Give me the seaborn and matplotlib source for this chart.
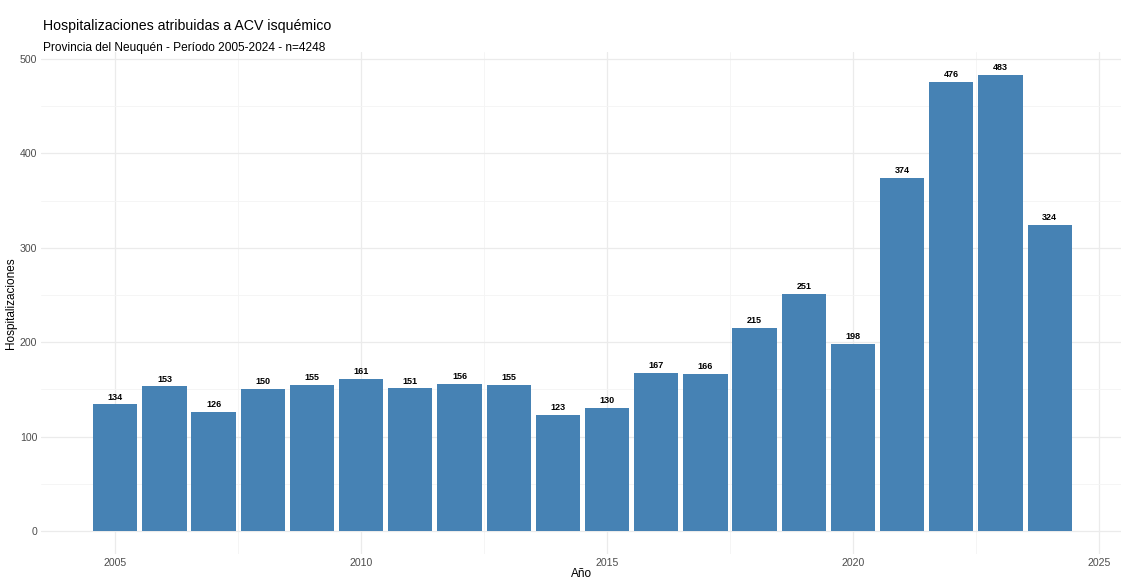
import matplotlib
matplotlib.use("Agg")
import matplotlib.pyplot as plt
from matplotlib.ticker import MultipleLocator
import seaborn as sns
import pandas as pd

years = list(range(2005, 2025))
hospitalizaciones = [134, 153, 126, 150, 155, 161, 151, 156, 155, 123,
                     130, 167, 166, 215, 251, 198, 374, 476, 483, 324]

title = "Hospitalizaciones atribuidas a ACV isquémico"
subtitle = "Provincia del Neuquén - Período 2005-2024 - n=4248"
x_label = "Año"
y_label = "Hospitalizaciones"

df = pd.DataFrame({"anio": years, "hosp": hospitalizaciones})

sns.set_theme(style="white")
plt.rcParams["font.family"] = ["Liberation Sans", "DejaVu Sans"]

fig = plt.figure(figsize=(11.21, 5.81), dpi=100)
ax = fig.add_axes([0.037, 0.047, 0.963, 0.863])

sns.barplot(data=df, x="anio", y="hosp", native_scale=True, width=0.9,
            color="#4682B4", saturation=1, linewidth=0, ax=ax, zorder=2)

for x, v in zip(years, hospitalizaciones):
    ax.text(x, v + 3, str(v), ha="center", va="bottom", fontsize=6.5,
            fontweight="bold", color="black", zorder=3)

ax.set_xlim(2003.5, 2025.45)
ax.set_ylim(-24.2, 507.2)
ax.xaxis.set_major_locator(MultipleLocator(5))
ax.xaxis.set_minor_locator(MultipleLocator(2.5))
ax.yaxis.set_major_locator(MultipleLocator(100))
ax.yaxis.set_minor_locator(MultipleLocator(50))
ax.grid(which="major", color="#EBEBEB", linewidth=0.9, zorder=0)
ax.grid(which="minor", color="#F4F4F4", linewidth=0.6, zorder=0)
ax.set_axisbelow(True)
for s in ax.spines.values():
    s.set_visible(False)
ax.tick_params(axis="both", which="both", length=0, labelsize=7.6,
               labelcolor="#4D4D4D", pad=3)
ax.set_xticks([2005, 2010, 2015, 2020, 2025])
ax.set_xticklabels(["2005", "2010", "2015", "2020", "2025"])

ax.set_xlabel(x_label, fontsize=8.5, color="black", labelpad=0)
ax.set_ylabel(y_label, fontsize=8.5, color="black", labelpad=2)

fig.text(0.038, 0.955, title, fontsize=10.2, color="black", ha="left", va="center")
fig.text(0.038, 0.918, subtitle, fontsize=8.6, color="black", ha="left", va="center")

fig.savefig("out.png", dpi=100, facecolor="white")
